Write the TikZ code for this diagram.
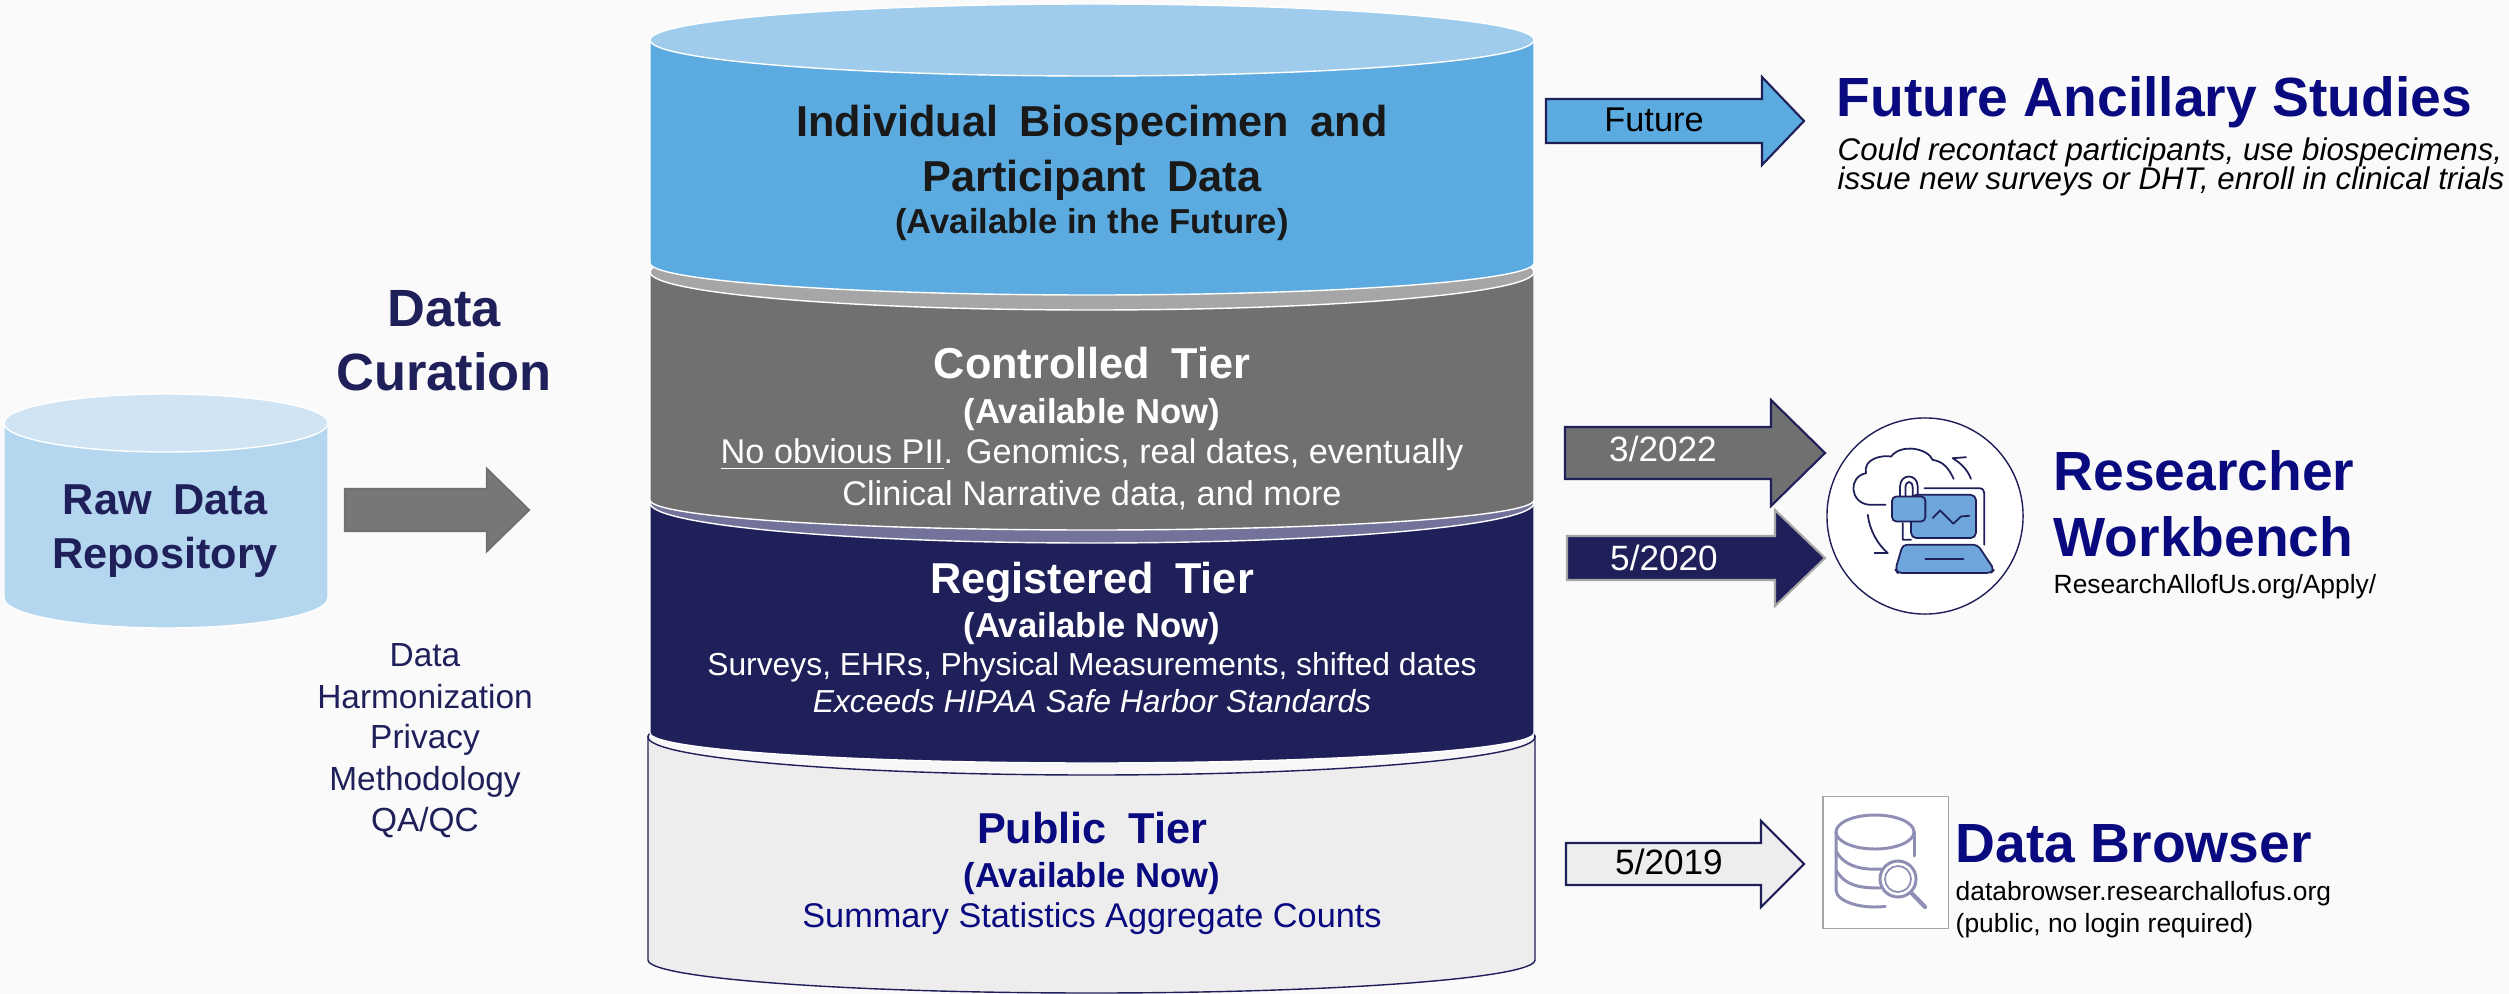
\documentclass[tikz,border=0pt]{standalone}
\usepackage{fontspec}
\setmainfont{Liberation Sans}
\definecolor{pagebg}{HTML}{FAFAFA}
\definecolor{deepnavy}{HTML}{1F1F5A}
\definecolor{titlenavy}{HTML}{0A0A80}
\definecolor{tierblue}{HTML}{5BAAE0}
\definecolor{capblue}{HTML}{9FCCEC}
\definecolor{tiergray}{HTML}{707070}
\definecolor{capgray}{HTML}{A6A6A6}
\definecolor{capnavy}{HTML}{72729A}
\definecolor{tierpale}{HTML}{EDEDED}
\definecolor{cappale}{HTML}{F7F7F7}
\definecolor{rawblue}{HTML}{B4D6EF}
\definecolor{rawcap}{HTML}{D0E4F4}
\definecolor{iconblue}{HTML}{6EA6DC}
\definecolor{iconpale}{HTML}{8F8FB5}
\newcommand{\widewords}{\spaceskip=0.5em\relax}
\tikzset{%
  line text/.style={anchor=base, inner sep=0pt},
  left text/.style={anchor=base west, inner sep=0pt},
  tier head/.style={line text, font=\fontsize{12.3}{14}\bfseries\selectfont\widewords},
  raw head/.style={line text, text=deepnavy, font=\fontsize{12.3}{14}\bfseries\selectfont},
  tier sub/.style={line text, font=\fontsize{9.85}{12}\bfseries\selectfont},
  tier body/.style={line text, font=\fontsize{9.75}{12}\selectfont},
  tier thin/.style={line text, font=\fontsize{9.05}{12}\selectfont},
  big title/.style={left text, text=titlenavy, font=\fontsize{15.7}{18}\bfseries\selectfont},
  small note/.style={left text, font=\fontsize{7.5}{9}\selectfont},
  icon line/.style={draw=deepnavy, line width=0.5pt, line cap=round, line join=round},
  db line/.style={draw=iconpale, line width=0.85pt, line cap=round},
}

\begin{document}
\begin{tikzpicture}[x=0.01cm, y=-0.01cm]

    \useasboundingbox (0,0) rectangle (2509,994);
    \clip (0,0) rectangle (2509,994);
    \fill [pagebg] (0,0) rectangle (2509,994);

    % cylinders, lowest tier first
    \foreach \name/\xl/\xr/\yt/\rt/\yb/\rb/\body/\capc/\edge in {
        public/648/1535/737/38/960/33/tierpale/cappale/deepnavy,
        registered/650/1534/503/40/733/30/deepnavy/capnavy/white,
        controlled/650/1534/272/38/500/30/tiergray/capgray/white,
        individual/650/1534/40/36/263/32/tierblue/capblue/white,
        raw/4/328/423/29/598/30/rawblue/rawcap/white}
    {
      \draw [fill=\body, draw=\edge, line width=0.4pt] (\xl,\yt) -- (\xl,\yb)
        arc [start angle=180, end angle=360, x radius={(\xr-\xl)/2*0.01cm}, y radius={\rb*0.01cm}]
        -- (\xr,\yt) arc [start angle=0, end angle=180, x radius={(\xr-\xl)/2*0.01cm}, y radius={\rt*0.01cm}];
      \draw [fill=\capc, draw=\edge, line width=0.4pt] ({(\xl+\xr)/2},\yt)
        ellipse [x radius={(\xr-\xl)/2*0.01cm}, y radius={\rt*0.01cm}];
    }

    % block arrows
    \foreach \name/\xa/\xb/\xc/\ym/\hs/\hh/\body/\edge in {
        curate/345/487/529/510/21/41/tiergray!95!white/tiergray,
        future/1546/1762/1804/121/22/44/tierblue/deepnavy,
        controlled/1565/1771/1825/453/26/53/tiergray/deepnavy,
        registered/1567/1775/1825/558/22/48/deepnavy/capgray,
        public/1566/1761/1804/864/21/43/tierpale/deepnavy}
      \draw [fill=\body, draw=\edge, line width=0.6pt, line join=miter]
        (\xa,\ym-\hs) -- (\xb,\ym-\hs) -- (\xb,\ym-\hh) -- (\xc,\ym)
        -- (\xb,\ym+\hh) -- (\xb,\ym+\hs) -- (\xa,\ym+\hs) -- cycle;

    \node [tier body, text=black] (future-date) at (1654,132) {Future};
    \node [tier body, text=white, font=\fontsize{10}{12}\selectfont] (controlled-date) at (1663,461) {3/2022};
    \node [tier body, text=white, font=\fontsize{10}{12}\selectfont] (registered-date) at (1664,570) {5/2020};
    \node [tier body, text=black, font=\fontsize{10}{12}\selectfont] (public-date) at (1669,874) {5/2019};

    % text of the tiers
    \node [tier head, text=black!90] (individual-a) at (1092,137) {Individual Biospecimen and};
    \node [tier head, text=black!90] (individual-b) at (1092,192) {Participant Data};
    \node [tier sub, text=black!90] (individual-c) at (1092,233) {(Available in the Future)};

    \node [tier head, text=white] (controlled-a) at (1092,378) {Controlled Tier};
    \node [tier sub, text=white] (controlled-b) at (1092,423) {(Available Now)};
    \node [tier body, text=white] (controlled-c) at (1092,463) {\underline{No obvious PII}. Genomics, real dates, eventually};
    \node [tier body, text=white] (controlled-d) at (1092,505) {Clinical Narrative data, and more};

    \node [tier head, text=white] (registered-a) at (1092,593) {Registered Tier};
    \node [tier sub, text=white] (registered-b) at (1092,637) {(Available Now)};
    \node [tier thin, text=white] (registered-c) at (1092,675) {Surveys, EHRs, Physical Measurements, shifted dates};
    \node [tier thin, text=white] (registered-d) at (1092,712) {\itshape Exceeds HIPAA Safe Harbor Standards};

    \node [tier head, text=titlenavy] (public-a) at (1092,843) {Public Tier};
    \node [tier sub, text=titlenavy] (public-b) at (1092,887) {(Available Now)};
    \node [tier body, text=titlenavy] (public-c) at (1092,927) {Summary Statistics Aggregate Counts};

    % left side
    \node [raw head] (raw-a) at (165,514) {\widewords Raw Data};
    \node [raw head] (raw-b) at (165,568) {Repository};
    \foreach \l/\y [count=\i] in {Data/326, Curation/390}
      \node [line text, text=deepnavy, font=\fontsize{14.9}{18}\bfseries\selectfont] (curation-\i) at (444,\y) {\l};
    \foreach \l/\y [count=\i] in {Data/666, Harmonization/708, Privacy/748, Methodology/790, {QA/QC}/831}
      \node [line text, text=deepnavy, font=\fontsize{9.5}{12}\selectfont] (step-\i) at (425,\y) {\l};

    % right side
    \node [big title] (future-title) at (1836,117) {Future Ancillary Studies};
    \node [left text, font=\fontsize{8.9}{11}\itshape\selectfont] (future-a) at (1837,161) {Could recontact participants, use biospecimens,};
    \node [left text, font=\fontsize{8.9}{11}\itshape\selectfont] (future-b) at (1837,190) {issue new surveys or DHT, enroll in clinical trials};

    \node [big title] (bench-a) at (2053,490) {Researcher};
    \node [big title] (bench-b) at (2053,556) {Workbench};
    \node [small note] (bench-c) at (2053,593) {ResearchAllofUs.org/Apply/};

    \node [big title] (browser-a) at (1955,862) {Data Browser};
    \node [small note] (browser-b) at (1955,900) {databrowser.researchallofus.org};
    \node [small note] (browser-c) at (1955,932) {(public, no login required)};

    % workbench icon
    \node [circle, draw=deepnavy, fill=white, line width=0.4pt, minimum size=1.96cm, inner sep=0pt] (bench-icon) at (1925,516) {};
    \begin{scope}[shift={(1520,380)}, x=0.003333cm, y=-0.003333cm]
      \draw [icon line] (1175,480) -- (1150,480) -- (1150,430) (1215,325) -- (1380,325)
        .. controls (1392,325) and (1395,335) .. (1395,345) -- (1395,495);
      \draw [icon line, fill=iconblue, rounded corners=1.5pt] (1175,345) rectangle (1370,475);
      \draw [icon line, fill=iconblue, rounded corners=1.2pt] (1150,495) -- (1375,495) -- (1425,570)
        -- (1415,580) -- (1135,580) -- (1128,570) -- cycle;
      \draw [icon line] (1218,537) -- (1332,537);
      \draw [icon line] (1240,415) -- (1262,392) -- (1302,432) -- (1325,410) -- (1350,408);
      \draw [icon line] (1142,352) -- (1142,320) .. controls (1142,280) and (1195,280) .. (1195,320) -- (1195,352);
      \draw [icon line] (1158,352) -- (1158,325) .. controls (1158,300) and (1180,300) .. (1180,325) -- (1180,352);
      \draw [icon line, fill=iconblue, rounded corners=1.2pt] (1118,350) rectangle (1218,425);
      \draw [icon line] (1098,375) -- (1050,375) .. controls (990,370) and (985,290) .. (1040,280)
        .. controls (1030,235) and (1090,225) .. (1115,230) .. controls (1145,190) and (1225,205) .. (1240,240)
        .. controls (1275,245) and (1290,270) .. (1303,297);
      \draw [icon line] (1355,297) .. controls (1345,270) and (1325,250) .. (1300,235) -- (1340,232);
      \draw [icon line] (1045,405) .. controls (1050,450) and (1075,495) .. (1105,520) -- (1065,520);
    \end{scope}

    % browser icon
    \node [rectangle, draw=capgray, fill=white, line width=0.3pt, minimum width=1.25cm, minimum height=1.31cm, inner sep=0pt] (browser-icon) at (1885.5,862.5) {};
    \draw [db line] (1875,832) ellipse [x radius=0.39cm, y radius=0.17cm];
    \draw [db line] (1836,832) -- (1836,890)
      arc [start angle=180, end angle=285, x radius=0.39cm, y radius=0.17cm];
    \draw [db line] (1914,832) -- (1914,856);
    \draw [db line] (1836,851) .. controls (1845,868) and (1865,870) .. (1882,869);
    \draw [db line] (1836,870) .. controls (1845,886) and (1860,888) .. (1880,888);
    \node [circle, draw=iconpale, fill=white, line width=0.85pt, minimum size=0.36cm, inner sep=0pt] (lens) at (1898,879) {};
    \node [circle, draw=iconpale, line width=0.5pt, minimum size=0.26cm, inner sep=0pt] (lens-in) at (1898,879) {};
    \draw [db line, line width=1.2pt] (lens) -- (1925,907);

\end{tikzpicture}
\end{document}
